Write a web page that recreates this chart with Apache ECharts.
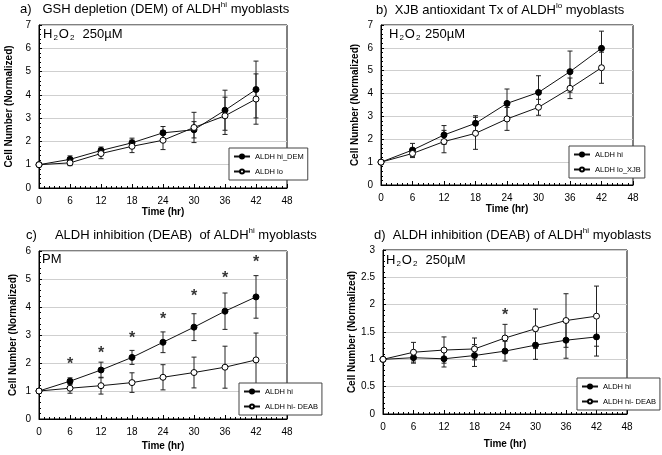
<!DOCTYPE html>
<html>
<head>
<meta charset="utf-8">
<script src="https://cdn.jsdelivr.net/npm/echarts@6/dist/echarts.min.js"></script>
<style>html,body{margin:0;padding:0;background:#fff}#c{width:662px;height:455px}</style>
</head>
<body>
<div id="c"></div>
<script>
// ---------- data ----------
const hours = [0, 6, 12, 18, 24, 30, 36, 42];
const xTicks = [0, 6, 12, 18, 24, 30, 36, 42, 48];

// a) GSH depletion (DEM)
const aHiDem = [1, 1.23, 1.61, 1.94, 2.37, 2.50, 3.34, 4.23];
const aHiDemErr = [0, 0.15, 0.15, 0.20, 0.27, 0.35, 0.86, 1.22];
const aLo = [1, 1.08, 1.48, 1.79, 2.05, 2.60, 3.10, 3.82];
const aLoErr = [0, 0.12, 0.22, 0.27, 0.40, 0.65, 0.80, 1.08];

// b) XJB antioxidant
const bHi = [1, 1.53, 2.19, 2.70, 3.57, 4.05, 4.96, 5.98];
const bHiErr = [0, 0.29, 0.41, 0.33, 0.63, 0.73, 0.90, 0.75];
const bLoXjb = [1, 1.38, 1.90, 2.26, 2.89, 3.40, 4.23, 5.13];
const bLoXjbErr = [0, 0.18, 0.49, 0.70, 0.50, 0.35, 0.45, 0.68];

// c) ALDH inhibition PM
const cHi = [1, 1.35, 1.75, 2.20, 2.74, 3.28, 3.85, 4.36];
const cHiErr = [0, 0.12, 0.28, 0.25, 0.37, 0.48, 0.65, 0.76];
const cDeab = [1, 1.10, 1.19, 1.30, 1.49, 1.66, 1.85, 2.11];
const cDeabErr = [0, 0.18, 0.30, 0.35, 0.45, 0.55, 0.75, 0.96];
const cStarHours = [6, 12, 18, 24, 30, 36, 42];
const cStarY = [2.09, 2.47, 3.01, 3.70, 4.51, 5.16, 5.73];

// d) ALDH inhibition H2O2
const dHi = [1, 1.03, 1.01, 1.07, 1.15, 1.26, 1.35, 1.41];
const dHiErr = [0, 0.10, 0.15, 0.20, 0.18, 0.26, 0.33, 0.35];
const dDeab = [1, 1.13, 1.17, 1.19, 1.39, 1.56, 1.71, 1.79];
const dDeabErr = [0, 0.18, 0.24, 0.20, 0.25, 0.36, 0.49, 0.55];
const dStarHours = [24];
const dStarY = [1.87];

// ---------- helpers ----------
const FONT = 'Liberation Sans, Arial, Helvetica, sans-serif';
const grids = [
  {left: 39, top: 25, width: 248, height: 163},
  {left: 381, top: 25, width: 252, height: 160},
  {left: 39, top: 251, width: 248, height: 168},
  {left: 383, top: 250, width: 244, height: 164}
];
const yCfg = [
  {max: 7, interval: 1, nameGap: 25, xNameGap: 18},
  {max: 7, interval: 1, nameGap: 21, xNameGap: 19},
  {max: 6, interval: 1, nameGap: 21, xNameGap: 22},
  {max: 3, interval: 0.5, nameGap: 25, xNameGap: 25}
];

function zip(xs, ys) { return xs.map((x, i) => [x, ys[i]]); }
function zip3(xs, ys, es) { return xs.map((x, i) => [x, ys[i], es[i]]); }

function lineSeries(name, gi, vals, filled) {
  return {
    name: name, type: 'line', xAxisIndex: gi, yAxisIndex: gi,
    data: zip(hours, vals), symbol: 'circle', symbolSize: 6,
    lineStyle: {color: '#111', width: 1},
    itemStyle: filled ? {color: '#000', borderColor: '#000', borderWidth: 1}
                      : {color: '#fff', borderColor: '#000', borderWidth: 1},
    z: 3, animation: false, silent: true
  };
}
function errSeries(gi, vals, errs) {
  return {
    name: 'err' + gi + '_' + vals[1], type: 'custom', xAxisIndex: gi, yAxisIndex: gi,
    data: zip3(hours, vals, errs), encode: {x: 0, y: 1},
    renderItem: function (params, api) {
      const x = api.value(0), y = api.value(1), e = api.value(2);
      if (!e) return null;
      const t = api.coord([x, y + e]), b = api.coord([x, y - e]);
      const w = 2.5, st = {stroke: '#222', lineWidth: 1};
      return {type: 'group', children: [
        {type: 'line', shape: {x1: t[0], y1: t[1], x2: b[0], y2: b[1]}, style: st},
        {type: 'line', shape: {x1: t[0] - w, y1: t[1], x2: t[0] + w, y2: t[1]}, style: st},
        {type: 'line', shape: {x1: b[0] - w, y1: b[1], x2: b[0] + w, y2: b[1]}, style: st}
      ]};
    },
    z: 2, animation: false, silent: true
  };
}
function starSeries(gi, xs, ys) {
  return {
    name: 'stars' + gi, type: 'scatter', xAxisIndex: gi, yAxisIndex: gi,
    data: zip(xs, ys), symbolSize: 1, itemStyle: {color: 'rgba(0,0,0,0)'},
    label: {show: true, formatter: '*', position: 'inside', fontSize: 16, fontWeight: 'bold',
            color: '#000', fontFamily: FONT, offset: [0, 4]},
    animation: false, silent: true
  };
}

const xAxes = grids.map((g, i) => ({
  gridIndex: i, type: 'value', min: 0, max: 48, interval: 6,
  axisLine: {show: true, lineStyle: {color: '#000', width: 1}},
  axisTick: {show: true, inside: true, length: 4, lineStyle: {color: '#000'}},
  minorTick: {show: true, splitNumber: 6, length: 2, lineStyle: {color: '#000'}},
  splitLine: {show: false},
  axisLabel: {fontSize: 10, color: '#000', margin: 8, fontFamily: FONT},
  name: 'Time (hr)', nameLocation: 'middle', nameGap: yCfg[i].xNameGap,
  nameTextStyle: {fontSize: 10, fontWeight: 'bold', color: '#000', fontFamily: FONT}
}));
const yAxes = grids.map((g, i) => ({
  gridIndex: i, type: 'value', min: 0, max: yCfg[i].max, interval: yCfg[i].interval,
  axisLine: {show: true, lineStyle: {color: '#000', width: 1}},
  axisTick: {show: true, inside: true, length: 3, lineStyle: {color: '#000'}},
  minorTick: {show: true, splitNumber: 5, length: 2, lineStyle: {color: '#000'}},
  splitLine: {show: true, lineStyle: {color: '#cfcfcf', width: 1}},
  axisLabel: {fontSize: 10, color: '#000', margin: 8, fontFamily: FONT},
  name: 'Cell Number (Normalized)', nameLocation: 'middle', nameGap: yCfg[i].nameGap,
  nameTextStyle: {fontSize: 10, fontWeight: 'bold', color: '#000', fontFamily: FONT}
}));

function legend(names, left, top) {
  return {
    data: names, left: left, top: top, orient: 'vertical',
    backgroundColor: '#fff', borderColor: '#444', borderWidth: 1, borderRadius: 0,
    padding: [4, 4, 4, 4], itemWidth: 16, itemHeight: 5, itemGap: 6,
    selectedMode: false,
    textStyle: {fontSize: 7.5, color: '#000', fontFamily: FONT, lineHeight: 9}
  };
}

const richTitle = {
  n: {fontSize: 13, lineHeight: 16, fontFamily: FONT, color: '#000', verticalAlign: 'middle'},
  s: {fontSize: 8, lineHeight: 9, fontFamily: FONT, color: '#000', verticalAlign: 'top'}
};
const richInner = {
  n: {fontSize: 13, lineHeight: 16, fontFamily: FONT, color: '#000', verticalAlign: 'middle'},
  b: {fontSize: 8, lineHeight: 9, fontFamily: FONT, color: '#000', verticalAlign: 'bottom', padding: [0, 1, 0, 1]}
};
function txt(x, y, text, rich) {
  return {type: 'text', x: x, y: y, z: 10,
    style: {text: text, rich: rich, verticalAlign: 'middle', align: 'left', fontFamily: FONT, fontSize: 13, fill: '#000'}};
}

const option = {
  animation: false,
  backgroundColor: '#fff',
  textStyle: {fontFamily: FONT},
  grid: grids.map(g => Object.assign({show: true, borderColor: '#000', borderWidth: 1, backgroundColor: 'transparent'}, g)),
  xAxis: xAxes,
  yAxis: yAxes,
  legend: [
    legend(['ALDH hi_DEM', 'ALDH lo'], 229, 148),
    legend(['ALDH hi', 'ALDH lo_XJB'], 569, 146),
    legend(['ALDH hi', 'ALDH hi- DEAB'], 239, 383),
    legend(['ALDH hi', 'ALDH hi- DEAB'], 577, 378)
  ],
  series: [
    errSeries(0, aHiDem, aHiDemErr), errSeries(0, aLo, aLoErr),
    lineSeries('ALDH hi_DEM', 0, aHiDem, true), lineSeries('ALDH lo', 0, aLo, false),
    errSeries(1, bHi, bHiErr), errSeries(1, bLoXjb, bLoXjbErr),
    lineSeries('ALDH hi', 1, bHi, true), lineSeries('ALDH lo_XJB', 1, bLoXjb, false),
    errSeries(2, cHi, cHiErr), errSeries(2, cDeab, cDeabErr),
    lineSeries('ALDH hi', 2, cHi, true), lineSeries('ALDH hi- DEAB', 2, cDeab, false),
    starSeries(2, cStarHours, cStarY),
    errSeries(3, dHi, dHiErr), errSeries(3, dDeab, dDeabErr),
    lineSeries('ALDH hi', 3, dHi, true), lineSeries('ALDH hi- DEAB', 3, dDeab, false),
    starSeries(3, dStarHours, dStarY)
  ],
  graphic: [
    txt(20, 9, '{n|a)   GSH depletion (DEM) of ALDH}{s|hi}{n| myoblasts}', richTitle),
    txt(376, 10, '{n|b)  XJB antioxidant Tx of ALDH}{s|lo}{n| myoblasts}', richTitle),
    txt(26, 235, '{n|c)     ALDH inhibition (DEAB)  of ALDH}{s|hi}{n| myoblasts}', richTitle),
    txt(374, 235, '{n|d)  ALDH inhibition (DEAB) of ALDH}{s|hi}{n| myoblasts}', richTitle),
    txt(43, 34, '{n|H}{b|2}{n|O}{b|2}{n|  250µM}', richInner),
    txt(389, 34, '{n|H}{b|2}{n|O}{b|2}{n| 250µM}', richInner),
    txt(42, 259, '{n|PM}', richInner),
    txt(386, 260, '{n|H}{b|2}{n|O}{b|2}{n|  250µM}', richInner)
  ]
};

const chart = echarts.init(document.getElementById('c'), null, {renderer: 'canvas'});
chart.setOption(option);
</script>
</body>
</html>
